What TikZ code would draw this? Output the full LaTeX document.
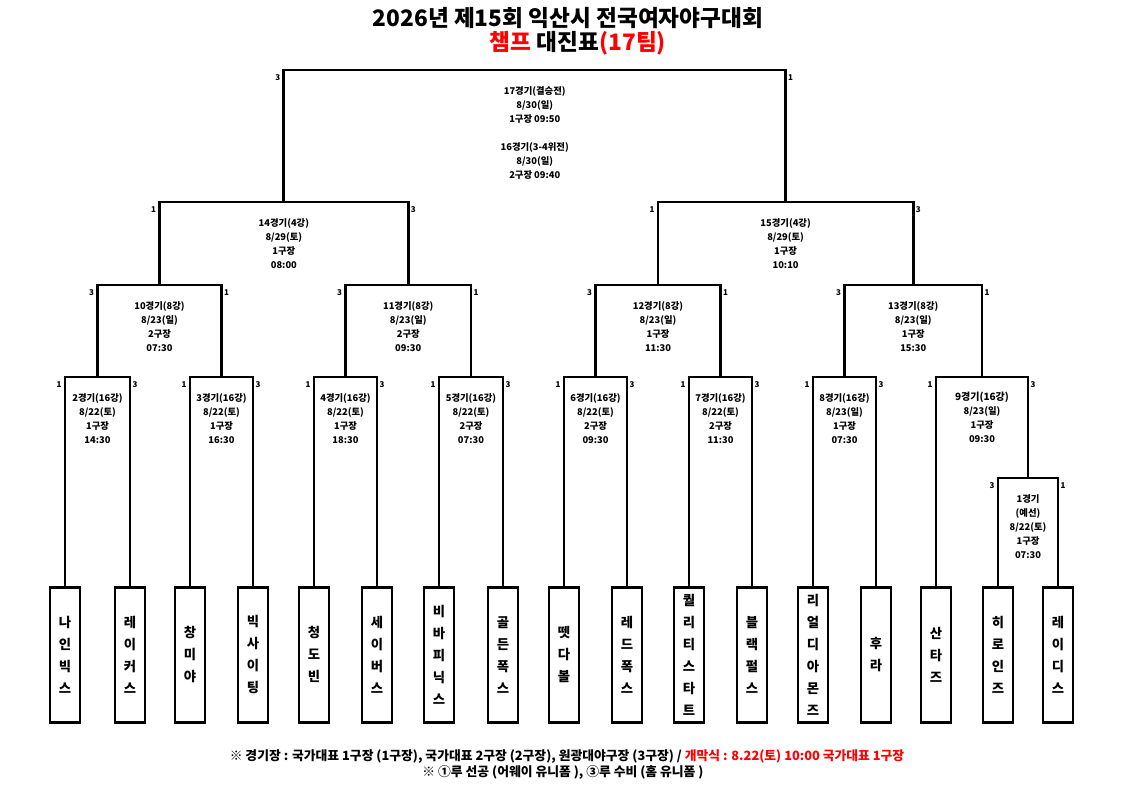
\documentclass[tikz,border=0pt]{standalone}
\usepackage{fontspec}
\setmainfont{Noto Sans CJK KR}
\begin{document}
\begin{tikzpicture}[x=0.75pt,y=-0.75pt,
  br/.style={line width=2.2pt,line join=miter},
  info/.style={font=\fontsize{7}{10.5}\selectfont\bfseries,align=center,anchor=north,inner sep=0pt},
  sc/.style={font=\fontsize{6}{7}\selectfont\bfseries,inner sep=0pt},
  team/.style={draw,line width=2.2pt,minimum width=22.5pt,minimum height=101pt,anchor=north,align=center,
     font=\fontsize{10}{16.5}\selectfont\bfseries,inner sep=0pt}]
\useasboundingbox (0,0) rectangle (1121,793);
\newcommand{\mygame}[8]{% name x1 x2 ytop ybot text left right
  \coordinate (#1) at ({(#2+#3)/2},#4);
  \draw[br] (#2,#5) -- (#2,#4) -- (#3,#4) -- (#3,#5);
  \node[info] (#1t) at ({(#2+#3)/2},#4+16) {#6};
  \node[sc] (#1l) at (#2-6,#4+8) {#7};
  \node[sc] (#1r) at (#3+5,#4+8) {#8};}
% title
\node[font=\fontsize{17}{20}\selectfont\bfseries] (t1) at (568,18) {2026년 제15회 익산시 전국여자야구대회};
\node[font=\fontsize{17}{20}\selectfont\bfseries] (t2) at (578,43) {\textcolor{red}{챔프} 대진표\textcolor{red}{(17팀)}};
% teams
\foreach \n/\x/\t in {a/65/나\\인\\빅\\스, b/130/레\\이\\커\\스, c/190/창\\미\\야, d/253/빅\\사\\이\\팅,
  e/314/청\\도\\빈, f/377/세\\이\\버\\스, g/439/비\\바\\피\\닉\\스, h/503/골\\든\\폭\\스,
  i/564/뗏\\다\\볼, j/627/레\\드\\폭\\스, k/689/퀄\\리\\티\\스\\타\\트, l/752/블\\랙\\펄\\스,
  m/813/리\\얼\\디\\아\\몬\\즈, n/876/후\\라, o/936/산\\타\\즈, p/998/히\\로\\인\\즈, q/1058/레\\이\\디\\스}
  \node[team] (\n) at (\x,586) {\t};
% round 16
\mygame{g2}{65}{130}{377}{586}{2경기(16강)\\8/22(토)\\1구장\\14:30}{1}{3}
\mygame{g3}{190}{253}{377}{586}{3경기(16강)\\8/22(토)\\1구장\\16:30}{1}{3}
\mygame{g4}{314}{377}{377}{586}{4경기(16강)\\8/22(토)\\1구장\\18:30}{1}{3}
\mygame{g5}{439}{503}{377}{586}{5경기(16강)\\8/22(토)\\2구장\\07:30}{1}{3}
\mygame{g6}{564}{627}{377}{586}{6경기(16강)\\8/22(토)\\2구장\\09:30}{1}{3}
\mygame{g7}{689}{752}{377}{586}{7경기(16강)\\8/22(토)\\2구장\\11:30}{1}{3}
\mygame{g8}{813}{876}{377}{586}{8경기(16강)\\8/23(일)\\1구장\\07:30}{1}{3}
\mygame{g1}{998}{1058}{478}{586}{1경기\\(예선)\\8/22(토)\\1구장\\07:30}{3}{1}
\draw[br] (936,586) -- (936,377) -- (1028,377) -- (1028,478);
\coordinate (g9) at (982,377);
\node[info] (g9t) at (982,392) {\fontsize{7.5}{11}\selectfont 9경기(16강)\\8/23(일)\\1구장\\09:30};
\node[sc] at (930,385) {1}; \node[sc] at (1033,385) {3};
% quarter
\mygame{g10}{97.5}{221.5}{285}{377}{10경기(8강)\\8/23(일)\\2구장\\07:30}{3}{1}
\mygame{g11}{345.5}{471}{285}{377}{11경기(8강)\\8/23(일)\\2구장\\09:30}{3}{1}
\mygame{g12}{595.5}{720.5}{285}{377}{12경기(8강)\\8/23(일)\\1구장\\11:30}{3}{1}
\mygame{g13}{844.5}{982}{285}{377}{13경기(8강)\\8/23(일)\\1구장\\15:30}{3}{1}
% semi
\mygame{g14}{159.5}{408.25}{202}{285}{14경기(4강)\\8/29(토)\\1구장\\08:00}{1}{3}
\mygame{g15}{658}{913.25}{202}{285}{15경기(4강)\\8/29(토)\\1구장\\10:10}{1}{3}
% final
\mygame{g17}{283.875}{785.625}{70}{202}{\fontsize{7}{11}\selectfont 17경기(결승전)\\8/30(일)\\1구장 09:50\\[11pt]16경기(3-4위전)\\8/30(일)\\2구장 09:40}{3}{1}
% footer
\node[font=\fontsize{9.6}{11}\selectfont\bfseries] (f1) at (567,757) {※ 경기장 : 국가대표 1구장 (1구장), 국가대표 2구장 (2구장), 원광대야구장 (3구장) / \textcolor{red}{개막식 : 8.22(토) 10:00 국가대표 1구장}};
\node[font=\fontsize{9.6}{11}\selectfont\bfseries] (f2) at (563,772) {※ ①루 선공 (어웨이 유니폼 ), ③루 수비 (홈 유니폼 )};
\end{tikzpicture}
\end{document}
